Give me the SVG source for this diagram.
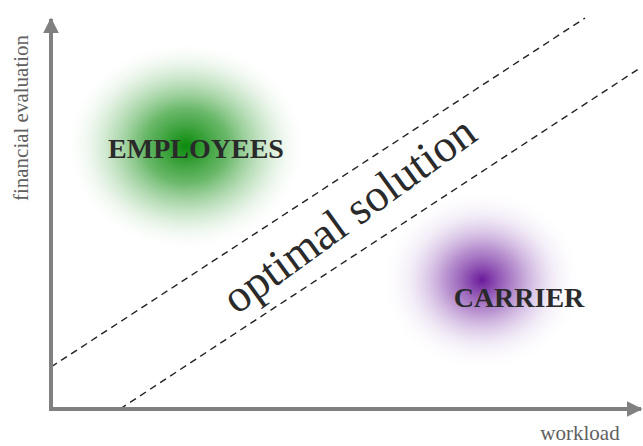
<svg xmlns="http://www.w3.org/2000/svg" width="643" height="446" viewBox="0 0 643 446">
<style>
.axis{stroke:#808080;stroke-width:4;fill:none}
.dash{stroke:#222;stroke-width:1.4;stroke-dasharray:7,5;fill:none}
.lbl{font-family:"Liberation Serif",serif;font-weight:bold;font-size:28px;fill:#2a2a2a;text-anchor:middle}
.ax{font-family:"Liberation Serif",serif;font-size:21px;fill:#606060;text-anchor:middle}
</style>
<defs>
<radialGradient id="g" cx="0.5" cy="0.5" r="0.5">
<stop offset="0" stop-color="#0a8a0a" stop-opacity="1"/>
<stop offset="0.35" stop-color="#2a9a2a" stop-opacity="0.7"/>
<stop offset="0.7" stop-color="#6ab86a" stop-opacity="0.25"/>
<stop offset="1" stop-color="#ffffff" stop-opacity="0"/>
</radialGradient>
<radialGradient id="p" cx="0.5" cy="0.5" r="0.5">
<stop offset="0" stop-color="#6a1a9a" stop-opacity="1"/>
<stop offset="0.35" stop-color="#8a4ab0" stop-opacity="0.6"/>
<stop offset="0.7" stop-color="#c0a0d8" stop-opacity="0.2"/>
<stop offset="1" stop-color="#ffffff" stop-opacity="0"/>
</radialGradient>
<marker id="ah" viewBox="0 0 10 10" refX="9" refY="5" markerWidth="4" markerHeight="4" orient="auto" markerUnits="strokeWidth">
<path d="M0,0 L10,5 L0,10 z" fill="#808080"/>
</marker>
</defs>
<g id="employees">
<ellipse cx="186" cy="146" rx="122" ry="106" fill="url(#g)"/>
<text class="lbl" x="196" y="158">EMPLOYEES</text>
</g>
<g id="carrier">
<ellipse cx="482" cy="280" rx="102" ry="92" fill="url(#p)"/>
<text class="lbl" x="519" y="307">CARRIER</text>
</g>
<g id="connectors">
<line class="dash" x1="51" y1="367" x2="585" y2="18"/>
<line class="dash" x1="120" y1="409" x2="640" y2="68"/>
<line class="axis" x1="51" y1="411" x2="51" y2="19" marker-end="url(#ah)"/>
<line class="axis" x1="49" y1="409" x2="641" y2="409" marker-end="url(#ah)"/>
</g>
<g id="band">
<text x="0" y="0" transform="translate(358,227) rotate(-36)" font-family="Liberation Serif,serif" font-size="46" fill="#2a2a2a" text-anchor="middle">optimal solution</text>
</g>
<g id="labels">
<text class="ax" transform="translate(28,118) rotate(-90)">financial evaluation</text>
<text class="ax" x="580" y="440">workload</text>
</g>
</svg>
